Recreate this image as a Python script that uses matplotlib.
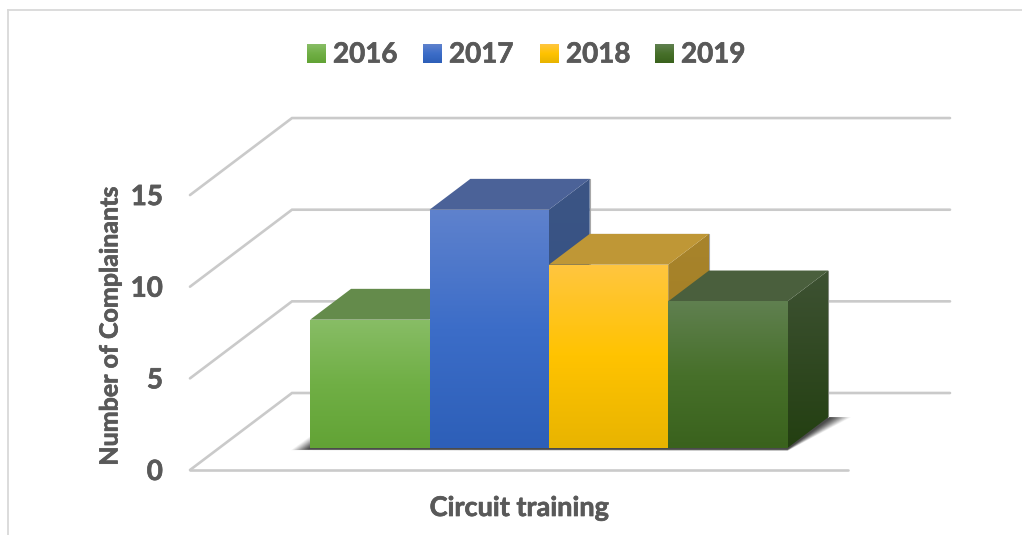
import numpy as np
import matplotlib
matplotlib.use('Agg')
import matplotlib.pyplot as plt
import matplotlib.patheffects as pe
from matplotlib.colors import LinearSegmentedColormap
from matplotlib.patches import Polygon

years = ['2016', '2017', '2018', '2019']
values = [7, 13, 10, 8]
y_ticks = [0, 5, 10, 15]
category = 'Circuit training'
y_title = 'Number of Complainants'

front_colors = [['#88BD66', '#70AF45', '#62A335'],
                ['#5F82CD', '#3C6DC8', '#2D5FB8'],
                ['#FFC640', '#FFC300', '#E8B400'],
                ['#608050', '#47702A', '#3A621D']]
top_colors = ['#648B4B', '#4B6298', '#BF9736', '#4A5F3D']
side_colors = [['#4E7A38', '#3F6A2A'],
               ['#3C5585', '#2F4F84'],
               ['#A8842C', '#9F7B1D'],
               ['#3E5233', '#233F11']]

W, H = 1022, 535
GREY = '#595959'
GRID = '#CACACA'
FONT = 'Lato'
HEAVY = [pe.withStroke(linewidth=0.5, foreground=GREY)]

# pixels per unit of the fake 3d axes
PX_X = 119.33
PX_Y = 18.33
ORIGIN = (190, 470)

# a full step back in depth, in data units
DEPTH_X = 102 / PX_X
DEPTH_Y = 77 / PX_Y
FLOOR = 658 / PX_X
BAR_X0 = 0.763
BAR_D0 = 0.286
BAR_D = 0.4


def proj(x, v, d=0.0):
    return x + d * DEPTH_X, v + d * DEPTH_Y


def gradient_poly(ax, pts, colors, zorder):
    cmap = LinearSegmentedColormap.from_list('g', colors)
    pts = np.array(pts)
    img = ax.imshow(np.linspace(0, 1, 256).reshape(-1, 1), cmap=cmap, aspect='auto',
                    origin='upper', interpolation='bilinear', zorder=zorder,
                    extent=(pts[:, 0].min(), pts[:, 0].max(), pts[:, 1].min(), pts[:, 1].max()))
    clip = Polygon(pts, closed=True, transform=ax.transData)
    img.set_clip_path(clip)


fig = plt.figure(figsize=(W / 100, H / 100), dpi=100)
ax = fig.add_axes([0, 0, 1, 1])
ax.axis('off')

# walls and floor
for v in y_ticks:
    xs, ys = zip(proj(0, v, 0), proj(0, v, 1), proj(FLOOR, v, 1))
    ax.plot(xs, ys, color=GRID, lw=1.9, solid_capstyle='round', solid_joinstyle='miter', zorder=1)
xs, ys = zip(proj(0, 0, 0), proj(FLOOR, 0, 0))
ax.plot(xs, ys, color=GRID, lw=1.9, solid_capstyle='round', zorder=1)

# soft shadow under the bars
x_end = BAR_X0 + len(values)
for grow, alpha in zip(np.linspace(1, 0, 14), np.linspace(0.05, 0.16, 14)):
    pts = [proj(BAR_X0 - 0.02 - 0.14 * grow, -0.08 - 0.04 * grow, BAR_D0),
           proj(x_end, -0.08 - 0.08 * grow, BAR_D0),
           proj(x_end + 0.16 * grow + 0.03, 0, BAR_D0 + BAR_D),
           proj(BAR_X0 + 0.05 - 0.17 * grow, 0, BAR_D0 + BAR_D)]
    ax.add_patch(Polygon(pts, closed=True, fc='#202020', ec='none', alpha=alpha, zorder=2))

# bars, left to right so that each one covers the side of the previous
for i, v in enumerate(values):
    x0, x1 = BAR_X0 + i, BAR_X0 + i + 1
    d0, d1 = BAR_D0, BAR_D0 + BAR_D
    top = [proj(x0, v, d0), proj(x1, v, d0), proj(x1, v, d1), proj(x0, v, d1)]
    side = [proj(x1, 0, d0), proj(x1, v, d0), proj(x1, v, d1), proj(x1, 0, d1)]
    front = [proj(x0, 0, d0), proj(x1, 0, d0), proj(x1, v, d0), proj(x0, v, d0)]
    # thin pale rim on the back edges
    xs, ys = zip(proj(x0, v, d1), proj(x1, v, d1), proj(x1, 0, d1))
    ax.plot(xs, ys, color='#A8A8A8', lw=0.8, zorder=3 + i)
    gradient_poly(ax, side, side_colors[i], 3 + i + 0.1)
    ax.add_patch(Polygon(top, closed=True, fc=top_colors[i], ec='none', zorder=3 + i + 0.2))
    gradient_poly(ax, front, front_colors[i], 3 + i + 0.5)

ax.set_xlim((0 - ORIGIN[0]) / PX_X, (W - ORIGIN[0]) / PX_X)
ax.set_ylim((ORIGIN[1] - H) / PX_Y, ORIGIN[1] / PX_Y)

# chart frame, cut by the image on the right and the bottom
fig.add_artist(plt.Line2D([8 / W, 8 / W], [0, 1 - 10 / H], color='#D9D9D9', lw=1.3))
fig.add_artist(plt.Line2D([8 / W, 1], [1 - 10 / H, 1 - 10 / H], color='#D9D9D9', lw=1.3))

for t in y_ticks:
    tx, ty = proj(0, t, 0)
    ax.annotate(str(t), (tx, ty), xytext=(-27, -2), textcoords='offset pixels', ha='right', va='center',
                fontsize=20, fontweight='bold', family=FONT, color=GREY, zorder=10, path_effects=HEAVY)

fig.text(110 / W, 1 - 326 / H, y_title, rotation=90, ha='center', va='center',
         fontsize=18, fontweight='bold', family=FONT, color=GREY, path_effects=HEAVY)
fig.text(519 / W, 1 - 508 / H, category, ha='center', va='center',
         fontsize=19.5, fontweight='bold', family=FONT, color=GREY, path_effects=HEAVY)

# legend
swatch_x = [307, 423, 540, 655]
for i, name in enumerate(years):
    sax = fig.add_axes([swatch_x[i] / W, 1 - 63 / H, 19 / W, 19 / H])
    sax.axis('off')
    cmap = LinearSegmentedColormap.from_list('g', front_colors[i])
    sax.imshow(np.linspace(0, 1, 64).reshape(-1, 1), cmap=cmap, aspect='auto')
    fig.text((swatch_x[i] + 26) / W, 1 - 54.5 / H, name, ha='left', va='center',
             fontsize=20, fontweight='bold', family=FONT, color=GREY, path_effects=HEAVY)

fig.savefig('out.png', dpi=100, facecolor='white')
